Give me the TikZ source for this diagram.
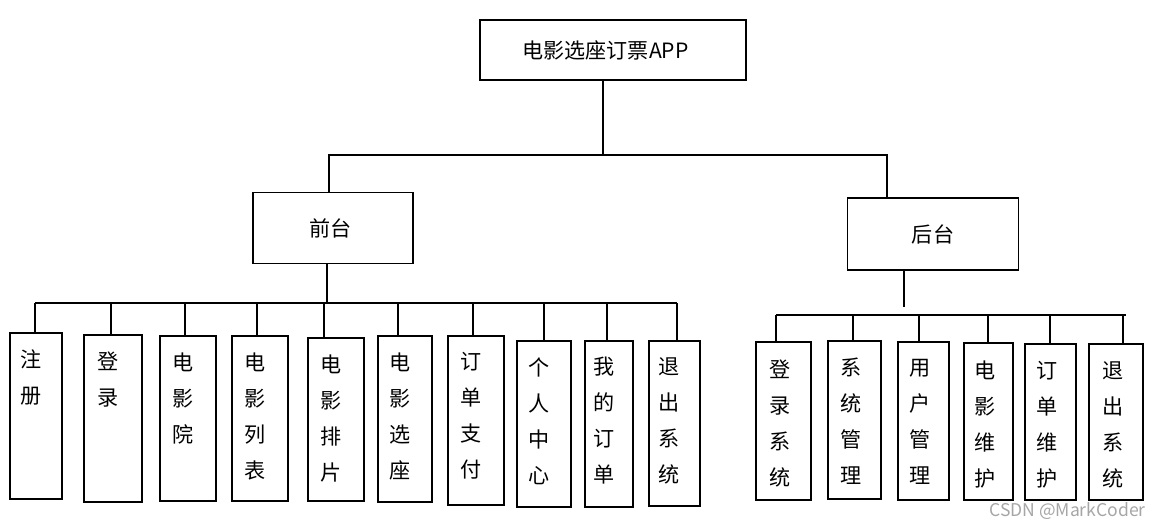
\documentclass[tikz,border=0pt]{standalone}
\usepackage{fontspec}
\newfontfamily\cjk{Noto Sans CJK SC}
\begin{document}
\begin{tikzpicture}[x=0.02cm,y=-0.02cm,
  box/.style={draw,line width=0.7pt,inner sep=0pt},
  lbl/.style={font=\cjk\fontsize{12}{20.5}\selectfont,align=center,anchor=north,inner sep=0pt},
  ln/.style={line width=0.7pt}]
\useasboundingbox (0,0) rectangle (1166,529);
\node[box,minimum width=5.32cm,minimum height=1.2cm,font=\cjk\fontsize{12}{14}\selectfont] (top) at (613,50) {\hspace*{-0.3cm}电影选座订票APP};
\node[box,minimum width=3.2cm,minimum height=1.42cm,font=\cjk\fontsize{12}{14}\selectfont] (fr) at (333,228) {\hspace*{-0.1cm}前台};
\node[box,minimum width=3.42cm,minimum height=1.44cm,font=\cjk\fontsize{12}{14}\selectfont] (bk) at (933,234) {后台};
\coordinate (t1) at (603,155);
\draw[ln] (top.south -| t1) -- (t1);
\draw[ln] (fr.north -| 329,0) |- (887,155) -- (bk.north -| 887,0);
\coordinate (fb) at (327,303);
\draw[ln] (fr.south -| fb) -- (fb);
\draw[ln] (35,303) -- (677,303);
\foreach \n/\l/\t/\r/\b/\vx/\tx in {
 1/10/333/62/499/35/{注\\册},
 2/84/335/142/502/111/{登\\录},
 3/160/336/216/501/185/{电\\影\\院},
 4/232/336/288/501/257/{电\\影\\列\\表},
 5/308/338/364/501/324/{电\\影\\排\\片},
 6/378/336/432/502/398/{电\\影\\选\\座},
 7/448/336/504/505/473/{订\\单\\支\\付},
 8/517/341/571/507/544/{个\\人\\中\\心},
 9/585/341/633/507/607/{我\\的\\订\\单},
 10/649/341/700/506/677/{退\\出\\系\\统}}{
  \draw[box] (\l,\t) rectangle (\r,\b);
  \coordinate (f\n) at (\vx,\t);
  \draw[ln] (\vx,303) -- (f\n);
  \node[lbl] (fl\n) at ({(\l+\r)/2-5},{\t+16}) {\tx};
}
\coordinate (bb) at (904,315);
\draw[ln] (bk.south -| bb) -- (904,307);
\draw[ln] (776,315) -- (1126,315);
\foreach \n/\l/\t/\r/\b/\vx/\tx in {
 1/756/342/811/500/776/{登\\录\\系\\统},
 2/828/341/881/499/853/{系\\统\\管\\理},
 3/898/342/949/500/919/{用\\户\\管\\理},
 4/964/343/1013/500/988/{电\\影\\维\\护},
 5/1025/344/1076/500/1050/{订\\单\\维\\护},
 6/1089/344/1143/500/1123/{退\\出\\系\\统}}{
  \draw[box] (\l,\t) rectangle (\r,\b);
  \coordinate (b\n) at (\vx,\t);
  \draw[ln] (\vx,315) -- (b\n);
  \node[lbl] (bl\n) at ({(\l+\r)/2-3},{\t+17}) {\tx};
}
\node[font=\cjk\fontsize{10}{12}\selectfont,text=gray!70,anchor=east] (wm) at (1152,511) {CSDN @MarkCoder};
\end{tikzpicture}
\end{document}
